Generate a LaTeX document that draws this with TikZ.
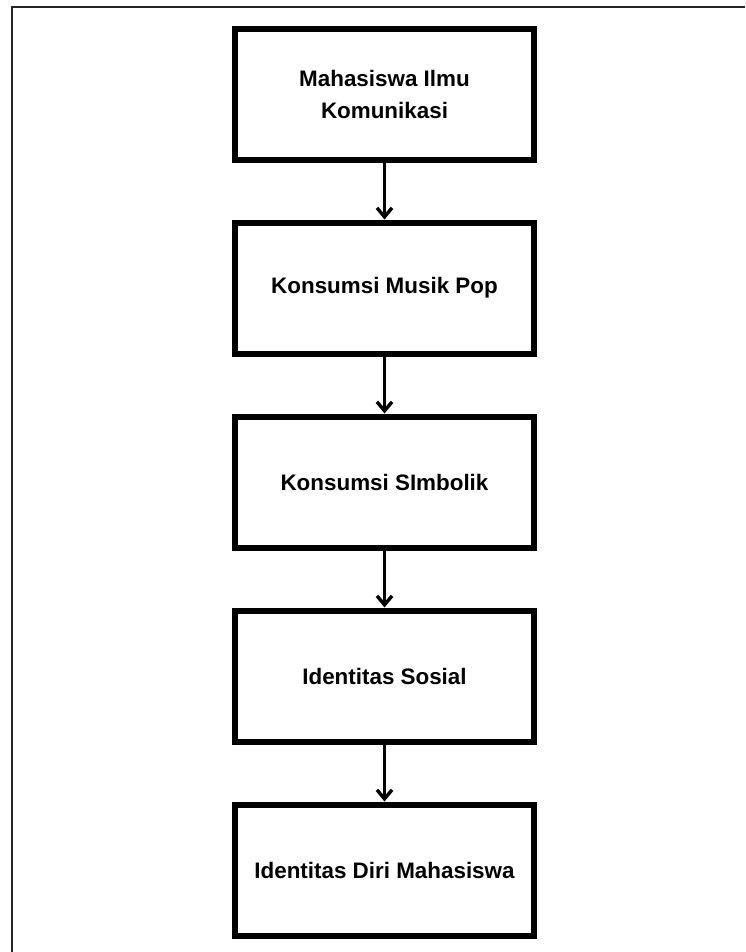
\documentclass[tikz,border=0pt]{standalone}
\usepackage{fontspec}
\setmainfont{Liberation Sans}
\usetikzlibrary{arrows.meta,positioning}

\begin{document}
\begin{tikzpicture}[x=1pt, y=-1pt,
  box/.style={draw=black, line width=6pt, fill=white, minimum width=299pt, minimum height=131pt, align=center, font=\bfseries\fontsize{22.4}{31.5}\selectfont},
  panah/.style={-{Straight Barb[length=9pt, width=15pt]}, line width=3.4pt}]
\useasboundingbox (0,0) rectangle (745,952);
% bingkai luar
\draw[line width=2pt, black!85] (12,952) -- (12,7) -- (745,7);
\node[box] (mhs) at (384.5,94.5) {Mahasiswa Ilmu\\Komunikasi};
\node[box] (musik) at (384.5,288) {Konsumsi Musik Pop};
\node[box] (simbol) at (384.5,482) {Konsumsi SImbolik};
\node[box] (sosial) at (384.5,676) {Identitas Sosial};
\node[box] (diri) at (384.5,870) {Identitas Diri Mahasiswa};
\draw[panah] (mhs) -- (musik);
\draw[panah] (musik) -- (simbol);
\draw[panah] (simbol) -- (sosial);
\draw[panah] (sosial) -- (diri);
\end{tikzpicture}
\end{document}
